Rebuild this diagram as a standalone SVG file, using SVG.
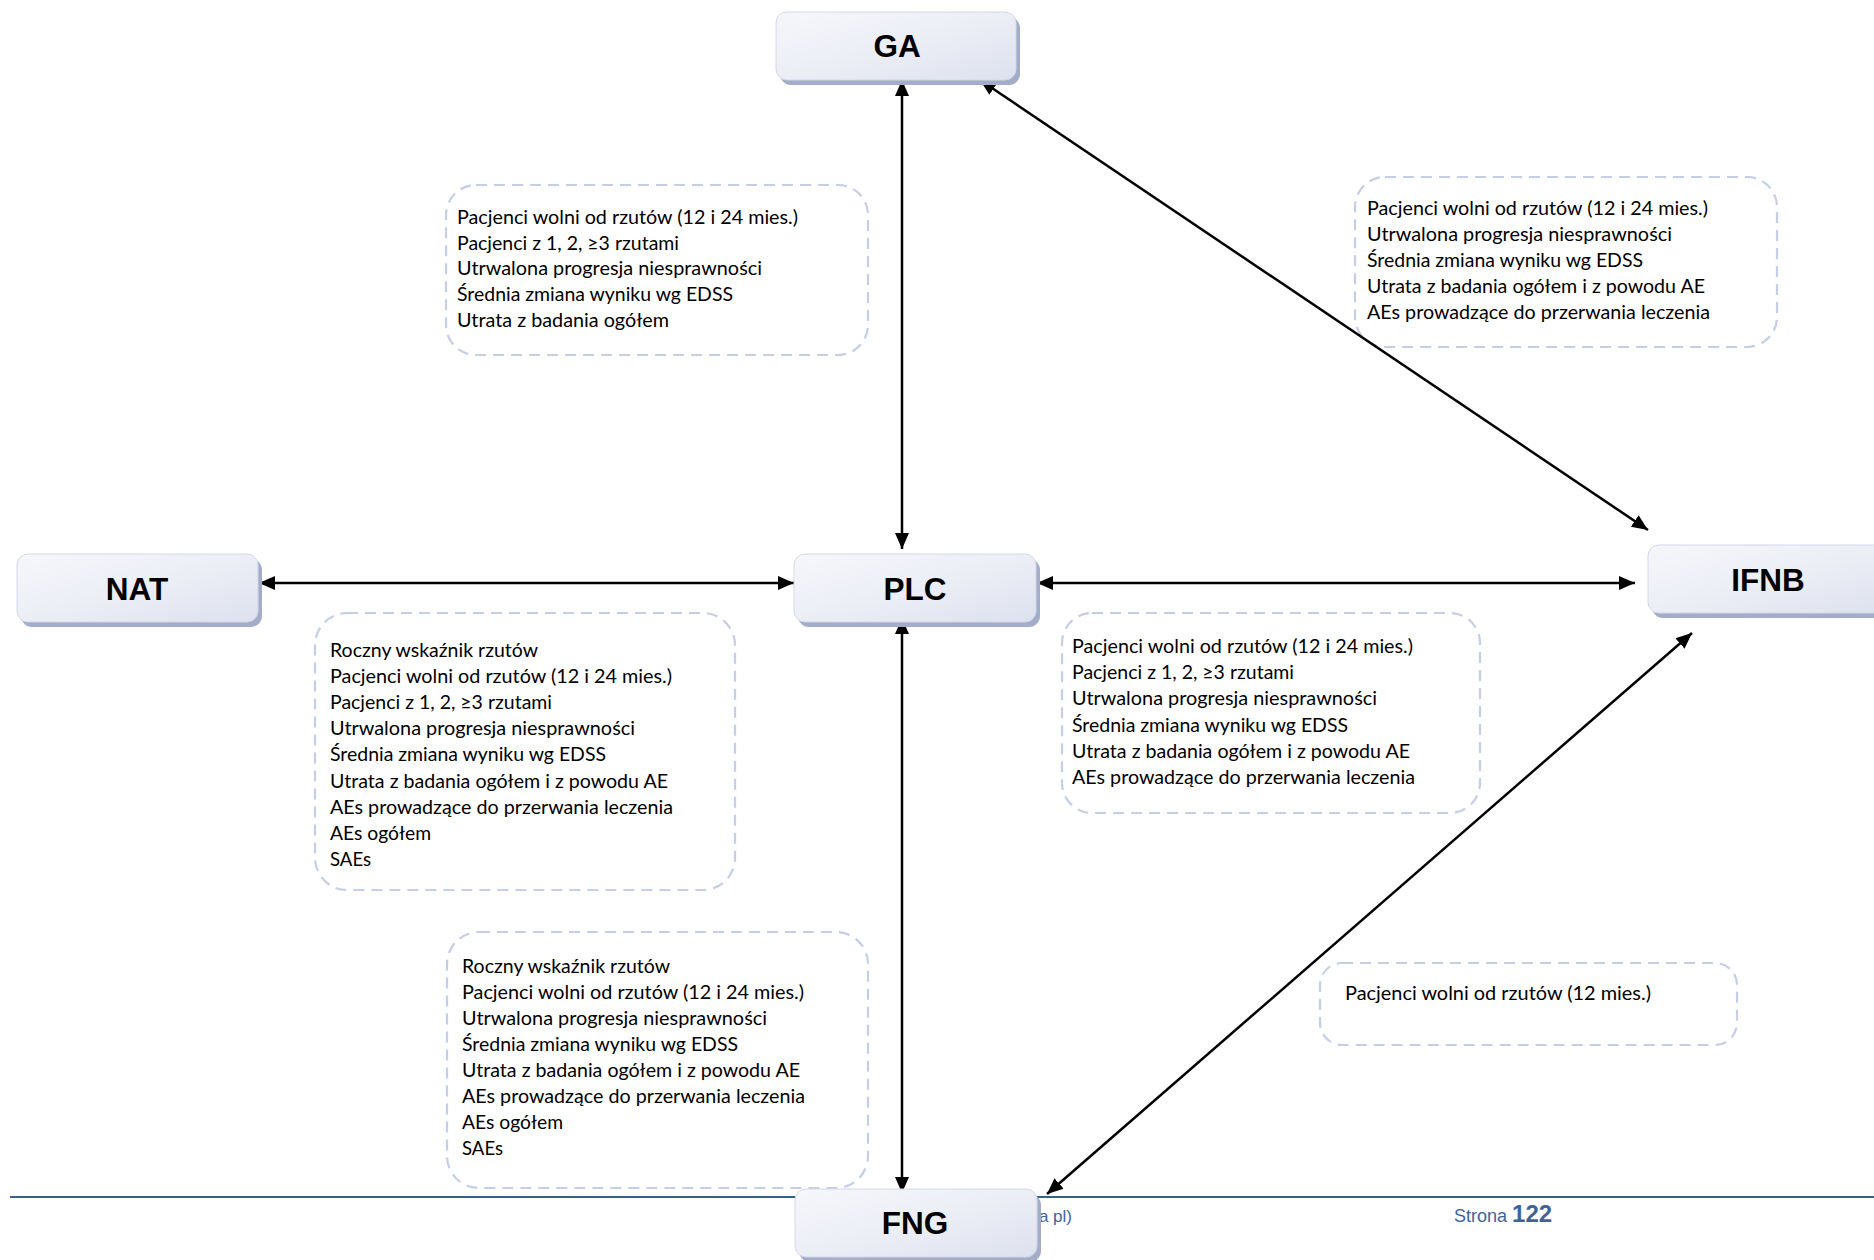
<svg xmlns="http://www.w3.org/2000/svg" width="1874" height="1260" viewBox="0 0 1874 1260">
<style>
.note{fill:none;stroke:#c6cde6;stroke-width:2.2;stroke-dasharray:11 7}
.nt{font-family:Lato,"Open Sans","Liberation Sans",sans-serif;font-size:20px;fill:#000}
.lbl{font-family:"Liberation Sans",Arial,sans-serif;font-size:31.5px;font-weight:bold;fill:#000;text-anchor:middle}
.box{fill:url(#g);stroke:#d3d8e8;stroke-width:1}
.sh{fill:#a3adc9}
.con{stroke:#000;stroke-width:2.5;fill:none;marker-start:url(#ah);marker-end:url(#ah)}
.ft{font-family:"Liberation Sans",Arial,sans-serif;fill:#3f6398}
</style>
<defs>
<linearGradient id="g" x1="0" y1="0" x2="1" y2="1">
<stop offset="0" stop-color="#f6f7fb"/>
<stop offset="0.5" stop-color="#eceef6"/>
<stop offset="1" stop-color="#dde1ee"/>
</linearGradient>
<marker id="ah" markerUnits="userSpaceOnUse" markerWidth="18" markerHeight="16" refX="16" refY="7" orient="auto-start-reverse" viewBox="0 0 18 14">
<path d="M0,0 L16,7 L0,14 z" fill="#000"/>
</marker>
</defs>
<rect width="1874" height="1260" fill="#fff"/>

<g id="notes">
<g id="note-ga-plc">
<rect class="note" x="446" y="185" width="422" height="170" rx="30"/>
<text class="nt" x="457" y="224" textLength="341" lengthAdjust="spacingAndGlyphs">Pacjenci wolni od rzutów (12 i 24 mies.)</text>
<text class="nt" x="457" y="250" textLength="222" lengthAdjust="spacingAndGlyphs">Pacjenci z 1, 2, ≥3 rzutami</text>
<text class="nt" x="457" y="275" textLength="305" lengthAdjust="spacingAndGlyphs">Utrwalona progresja niesprawności</text>
<text class="nt" x="457" y="301" textLength="276" lengthAdjust="spacingAndGlyphs">Średnia zmiana wyniku wg EDSS</text>
<text class="nt" x="457" y="327" textLength="212" lengthAdjust="spacingAndGlyphs">Utrata z badania ogółem</text>
</g>
<g id="note-ga-ifnb">
<rect class="note" x="1355" y="177" width="422" height="170" rx="30"/>
<text class="nt" x="1367" y="215" textLength="341" lengthAdjust="spacingAndGlyphs">Pacjenci wolni od rzutów (12 i 24 mies.)</text>
<text class="nt" x="1367" y="241" textLength="305" lengthAdjust="spacingAndGlyphs">Utrwalona progresja niesprawności</text>
<text class="nt" x="1367" y="267" textLength="276" lengthAdjust="spacingAndGlyphs">Średnia zmiana wyniku wg EDSS</text>
<text class="nt" x="1367" y="293" textLength="338" lengthAdjust="spacingAndGlyphs">Utrata z badania ogółem i z powodu AE</text>
<text class="nt" x="1367" y="319" textLength="343" lengthAdjust="spacingAndGlyphs">AEs prowadzące do przerwania leczenia</text>
</g>
<g id="note-nat-plc">
<rect class="note" x="315" y="613" width="420" height="277" rx="32"/>
<text class="nt" x="330" y="657" textLength="208" lengthAdjust="spacingAndGlyphs">Roczny wskaźnik rzutów</text>
<text class="nt" x="330" y="683" textLength="342" lengthAdjust="spacingAndGlyphs">Pacjenci wolni od rzutów (12 i 24 mies.)</text>
<text class="nt" x="330" y="709" textLength="222" lengthAdjust="spacingAndGlyphs">Pacjenci z 1, 2, ≥3 rzutami</text>
<text class="nt" x="330" y="735" textLength="305" lengthAdjust="spacingAndGlyphs">Utrwalona progresja niesprawności</text>
<text class="nt" x="330" y="761" textLength="276" lengthAdjust="spacingAndGlyphs">Średnia zmiana wyniku wg EDSS</text>
<text class="nt" x="330" y="788" textLength="338" lengthAdjust="spacingAndGlyphs">Utrata z badania ogółem i z powodu AE</text>
<text class="nt" x="330" y="814" textLength="343" lengthAdjust="spacingAndGlyphs">AEs prowadzące do przerwania leczenia</text>
<text class="nt" x="330" y="840" textLength="101" lengthAdjust="spacingAndGlyphs">AEs ogółem</text>
<text class="nt" x="330" y="866" textLength="41" lengthAdjust="spacingAndGlyphs">SAEs</text>
</g>
<g id="note-plc-ifnb">
<rect class="note" x="1062" y="613" width="418" height="200" rx="30"/>
<text class="nt" x="1072" y="653" textLength="341" lengthAdjust="spacingAndGlyphs">Pacjenci wolni od rzutów (12 i 24 mies.)</text>
<text class="nt" x="1072" y="679" textLength="222" lengthAdjust="spacingAndGlyphs">Pacjenci z 1, 2, ≥3 rzutami</text>
<text class="nt" x="1072" y="705" textLength="305" lengthAdjust="spacingAndGlyphs">Utrwalona progresja niesprawności</text>
<text class="nt" x="1072" y="732" textLength="276" lengthAdjust="spacingAndGlyphs">Średnia zmiana wyniku wg EDSS</text>
<text class="nt" x="1072" y="758" textLength="338" lengthAdjust="spacingAndGlyphs">Utrata z badania ogółem i z powodu AE</text>
<text class="nt" x="1072" y="784" textLength="343" lengthAdjust="spacingAndGlyphs">AEs prowadzące do przerwania leczenia</text>
</g>
<g id="note-plc-fng">
<rect class="note" x="447" y="932" width="421" height="256" rx="32"/>
<text class="nt" x="462" y="973" textLength="208" lengthAdjust="spacingAndGlyphs">Roczny wskaźnik rzutów</text>
<text class="nt" x="462" y="999" textLength="342" lengthAdjust="spacingAndGlyphs">Pacjenci wolni od rzutów (12 i 24 mies.)</text>
<text class="nt" x="462" y="1025" textLength="305" lengthAdjust="spacingAndGlyphs">Utrwalona progresja niesprawności</text>
<text class="nt" x="462" y="1051" textLength="276" lengthAdjust="spacingAndGlyphs">Średnia zmiana wyniku wg EDSS</text>
<text class="nt" x="462" y="1077" textLength="338" lengthAdjust="spacingAndGlyphs">Utrata z badania ogółem i z powodu AE</text>
<text class="nt" x="462" y="1103" textLength="343" lengthAdjust="spacingAndGlyphs">AEs prowadzące do przerwania leczenia</text>
<text class="nt" x="462" y="1129" textLength="101" lengthAdjust="spacingAndGlyphs">AEs ogółem</text>
<text class="nt" x="462" y="1155" textLength="41" lengthAdjust="spacingAndGlyphs">SAEs</text>
</g>
<g id="note-ifnb-fng">
<rect class="note" x="1320" y="963" width="417" height="82" rx="22"/>
<text class="nt" x="1345" y="1000" textLength="306" lengthAdjust="spacingAndGlyphs">Pacjenci wolni od rzutów (12 mies.)</text>
</g>
</g>

<g id="footer">
<line x1="10" y1="1197" x2="1874" y2="1197" stroke="#365f91" stroke-width="2"/>
<text class="ft" x="1072" y="1222" font-size="17" text-anchor="end">a pl)</text>
<text class="ft" x="1454" y="1222" font-size="18">Strona <tspan font-size="24" font-weight="bold">122</tspan></text>
</g>

<g id="connectors">
<line class="con" x1="902" y1="80" x2="902" y2="549"/>
<line class="con" x1="902" y1="618" x2="902" y2="1193"/>
<line class="con" x1="259" y1="583" x2="794" y2="583"/>
<line class="con" x1="1037" y1="583" x2="1635" y2="583"/>
<line class="con" x1="980" y1="80" x2="1648" y2="530"/>
<line class="con" x1="1692" y1="633" x2="1047" y2="1194"/>
</g>

<g id="node-GA">
<rect class="sh" x="780" y="17" width="240" height="68" rx="11"/>
<rect class="box" x="776" y="12" width="240" height="68" rx="11"/>
<text class="lbl" x="897" y="57">GA</text>
</g>
<g id="node-NAT">
<rect class="sh" x="21" y="559" width="241" height="68" rx="11"/>
<rect class="box" x="17" y="554" width="241" height="68" rx="11"/>
<text class="lbl" x="137" y="600">NAT</text>
</g>
<g id="node-PLC">
<rect class="sh" x="798" y="559" width="242" height="68" rx="11"/>
<rect class="box" x="794" y="554" width="242" height="68" rx="11"/>
<text class="lbl" x="915" y="600">PLC</text>
</g>
<g id="node-IFNB">
<rect class="sh" x="1652" y="550" width="242" height="68" rx="11"/>
<rect class="box" x="1648" y="545" width="242" height="68" rx="11"/>
<text class="lbl" x="1768" y="591">IFNB</text>
</g>
<g id="node-FNG">
<rect class="sh" x="799" y="1194" width="242" height="68" rx="11"/>
<rect class="box" x="795" y="1189" width="242" height="68" rx="11"/>
<text class="lbl" x="915" y="1234">FNG</text>
</g>
</svg>
